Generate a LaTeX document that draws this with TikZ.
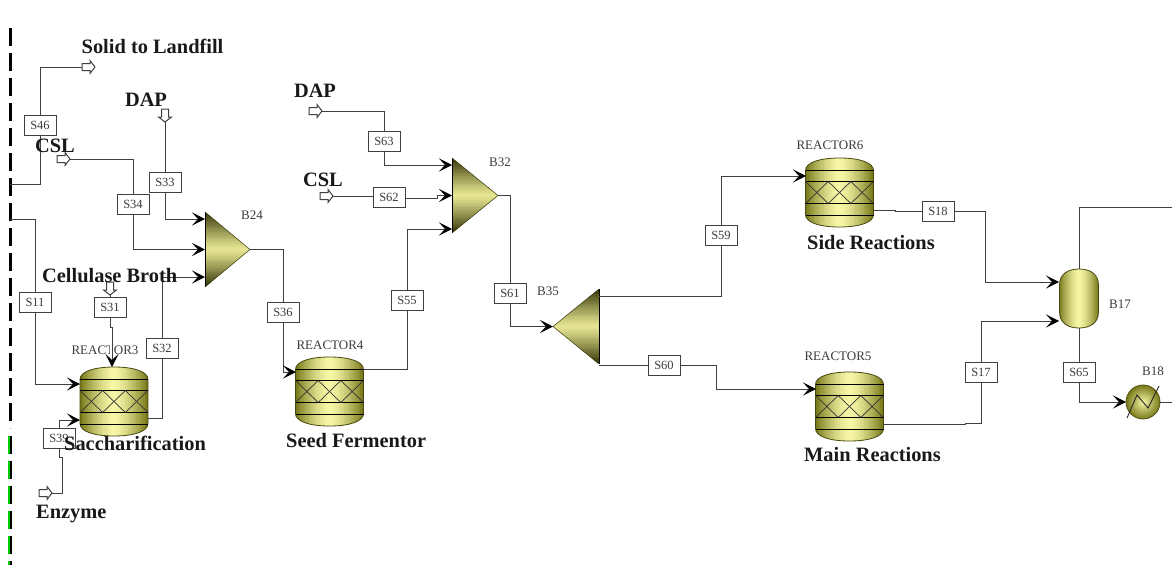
\documentclass[tikz,border=0pt]{standalone}
\usepackage{fontspec}
\setmainfont{Liberation Serif}
\usetikzlibrary{arrows.meta,calc}
\definecolor{oliveD}{HTML}{78781A}
\definecolor{oliveL}{HTML}{F6F6A6}
\definecolor{trioD}{HTML}{383808}
\definecolor{trioL}{HTML}{E8E894}
\definecolor{strm}{HTML}{404040}
\definecolor{txtg}{HTML}{3C3C3C}
\tikzset{
  x=1pt,y=-1pt,
  strmline/.style={draw=strm,line width=.95pt,line join=miter},
  intoport/.style={strmline,-{Stealth[length=13pt,width=13pt,inset=6pt,black]}},
  sbox/.style={draw=strm,fill=white,line width=1pt,minimum width=32pt,minimum height=20pt,inner sep=0pt,font=\fontsize{12.5}{13}\selectfont,text=txtg},
  blocklabel/.style={font=\fontsize{13}{14}\selectfont,text=txtg,inner sep=0pt},
  caption/.style={font=\fontsize{20.4}{21}\selectfont\bfseries,text=black!90,inner sep=0pt},
  feedarrow/.style={draw=strm,fill=white,line width=1pt,line join=miter},
  ghost/.style={inner sep=0pt,outer sep=0pt,draw=none,fill=none},
  vline/.style={draw=black,line width=1pt},
  xline/.style={draw=black!80,line width=.7pt},
  rim/.style={draw=oliveD!60!black,line width=.8pt}
}
\newcommand{\stripsH}[4]{%
  \foreach \u in {-20,...,20}{
    \pgfmathsetmacro{\pc}{100*(abs(\u)/20)^1.5}
    \fill[oliveD!\pc!oliveL] ({#1+\u*#2/20.5-#2/40},#3) rectangle ({#1+\u*#2/20.5+#2/30},#4);
  }%
}
\newcommand{\stripsV}[4]{%
  \foreach \u in {-20,...,20}{
    \pgfmathsetmacro{\pc}{100*(abs(\u)/20)^1.1}
    \fill[trioD!\pc!trioL] (#3,{#1+\u*#2/20.5-#2/40}) rectangle (#4,{#1+\u*#2/20.5+#2/30});
  }%
}
\newcommand{\reactorunit}[3]{%
  \def\rpath{(#2-34,#3-22) .. controls (#2-34,#3-30) and (#2-20,#3-34.5) .. (#2,#3-34.5)
     .. controls (#2+20,#3-34.5) and (#2+34,#3-30) .. (#2+34,#3-22)
     -- (#2+34,#3+22) .. controls (#2+34,#3+30) and (#2+20,#3+34.5) .. (#2,#3+34.5)
     .. controls (#2-20,#3+34.5) and (#2-34,#3+30) .. (#2-34,#3+22) -- cycle}%
  \begin{scope}
    \clip \rpath;
    \stripsH{#2}{34}{#3-36}{#3+36}
  \end{scope}
  \draw[rim] \rpath;
  \draw[vline] (#2-34,#3-22) -- (#2+34,#3-22);
  \draw[vline] (#2-34,#3-11) -- (#2+34,#3-11);
  \draw[vline] (#2-34,#3+11) -- (#2+34,#3+11);
  \draw[vline] (#2-34,#3+23) -- (#2+34,#3+23);
  \foreach \k in {0,1,2}{
    \draw[xline] ({#2-34+\k*22.67},#3-11) -- ({#2-34+(\k+1)*22.67},#3+11);
    \draw[xline] ({#2-34+\k*22.67},#3+11) -- ({#2-34+(\k+1)*22.67},#3-11);
  }
  \node[ghost,minimum width=68pt,minimum height=69pt] (#1) at (#2,#3) {};
}
\newcommand{\trio}[5]{%
  \begin{scope}
    \clip (#2,#4-#5) -- (#3,#4) -- (#2,#4+#5) -- cycle;
    \stripsV{#4}{#5}{#2}{#3}
  \end{scope}
  \draw[draw=black,line width=1pt] (#2,#4-#5) -- (#2,#4+#5);
  \draw[draw=trioD,line width=.5pt] (#2,#4-#5) -- (#3,#4) -- (#2,#4+#5);
  \node[ghost,minimum height=2*#5 pt,minimum width={abs(#3-#2)*1pt}] (#1) at ({(#2+#3)/2},#4) {};
}
\newcommand{\arrowright}[2]{%
  \path[feedarrow] (#1,#2-3.5) -- (#1+8,#2-3.5) -- (#1+8,#2-6.5) -- (#1+13,#2) -- (#1+8,#2+6.5) -- (#1+8,#2+3.5) -- (#1,#2+3.5) -- cycle;
}
\newcommand{\arrowdown}[2]{%
  \path[feedarrow] (#1-3.5,#2) -- (#1-3.5,#2+8) -- (#1-6.5,#2+8) -- (#1,#2+13) -- (#1+6.5,#2+8) -- (#1+3.5,#2+8) -- (#1+3.5,#2) -- cycle;
}
\begin{document}
\begin{tikzpicture}
\useasboundingbox (0,0) rectangle (1172,565);
\fill[white] (0,0) rectangle (1172,565);

\draw[black,line width=3pt,dash pattern=on 18pt off 7pt] (10,28) -- (10,428);
\draw[black,line width=3pt,dash pattern=on 18pt off 7pt] (10,436) -- (10,565);
\draw[green!80!black,line width=1.2pt,dash pattern=on 18pt off 7pt] (9,436) -- (9,565);

\coordinate (inA) at (10,184);
\coordinate (inB) at (10,219);
\coordinate (outR) at (1172,402);
\coordinate (outT) at (1172,207);

\node[blocklabel] (lr3) at (105,350) {REACTOR3};
\node[blocklabel] (lr4) at (330,345) {REACTOR4};
\node[blocklabel] (lr5) at (838,356) {REACTOR5};
\node[blocklabel] (lr6) at (830,145) {REACTOR6};
\node[blocklabel] (lb24) at (252,215) {B24};
\node[blocklabel] (lb32) at (500,162) {B32};
\node[blocklabel] (lb35) at (548,291) {B35};
\node[blocklabel] (lb17) at (1120,304) {B17};
\node[blocklabel] (lb18) at (1153,371) {B18};

\reactorunit{r3}{114}{401.5}
\reactorunit{r4}{329.5}{391.5}
\reactorunit{r5}{849.5}{406.5}
\reactorunit{r6}{839.5}{192.5}
\trio{b24}{205}{250}{249.5}{37.5}
\trio{b32}{452}{498}{195.5}{37.5}
\trio{b35}{599}{553}{326.5}{37.5}
\def\colpath{(1059.5,285) .. controls (1059.5,274) and (1068,269) .. (1079,269)
   .. controls (1090,269) and (1098.5,274) .. (1098.5,285) -- (1098.5,312)
   .. controls (1098.5,323) and (1090,328) .. (1079,328)
   .. controls (1068,328) and (1059.5,323) .. (1059.5,312) -- cycle}
\begin{scope}
  \clip \colpath;
  \stripsH{1079}{19.5}{268}{329}
\end{scope}
\draw[rim] \colpath;
\node[ghost,minimum width=39pt,minimum height=59pt] (b17) at (1079,298.5) {};
\shade[inner color=oliveL,outer color=oliveD,draw=oliveD!70!black,line width=.8pt] (1143,402) circle[radius=17];
\node[ghost,minimum width=34pt,minimum height=34pt] (b18) at (1143,402) {};
\draw[black!85,line width=.9pt] (1127,418) -- (1137,395) -- (1148,408) -- (1159,386);

\arrowright{82}{67}   \coordinate (pLand) at (82,67);
\arrowright{57}{159}  \coordinate (fCSLa) at (70,159);
\arrowdown{165}{109}  \coordinate (fDAPa) at (165,122);
\arrowdown{110}{282}  \coordinate (fCell) at (110,295);
\arrowright{39}{493}  \coordinate (fEnz) at (52,493);
\arrowright{309}{111} \coordinate (fDAPb) at (322,111);
\arrowright{320}{196} \coordinate (fCSLb) at (333,196);

\coordinate (r3a) at (80,384);   \coordinate (r3b) at (80,420);
\coordinate (r3t) at (112,367);  \coordinate (r3o) at (148,418);
\coordinate (r4a) at (296,372);  \coordinate (r4o) at (363,369);
\coordinate (r5a) at (816,389);  \coordinate (r5o) at (883,424);
\coordinate (r6a) at (806,176);  \coordinate (r6o) at (873,210);
\coordinate (b24a) at (205,219); \coordinate (b24c) at (205,277);
\coordinate (b32a) at (452,165); \coordinate (b32c) at (452,229);
\coordinate (b35a) at (599,296); \coordinate (b35b) at (599,365);
\coordinate (b17a) at (1059,282); \coordinate (b17b) at (1059,321);

\node[sbox] (s46) at (40,125) {S46};
\node[sbox] (s34) at (133,204) {S34};
\node[sbox] (s33) at (165,182) {S33};
\node[sbox] (s11) at (35,302) {S11};
\node[sbox] (s31) at (110,307) {S31};
\node[sbox] (s32) at (162,348) {S32};
\node[sbox] (s39) at (59,438) {S39};
\node[sbox] (s36) at (283,312) {S36};
\node[sbox] (s55) at (407,300) {S55};
\node[sbox] (s63) at (384,141) {S63};
\node[sbox] (s62) at (389,197) {S62};
\node[sbox] (s61) at (510,293) {S61};
\node[sbox] (s59) at (721,235) {S59};
\node[sbox] (s60) at (664,365) {S60};
\node[sbox] (s18) at (938,211) {S18};
\node[sbox] (s17) at (981,372) {S17};
\node[sbox] (s65) at (1079,372) {S65};

\draw[strmline] (inA) -| (s46.south);
\draw[strmline] (s46.north) |- (pLand);
\draw[strmline] (fCSLa) -| (s34.north);
\draw[intoport] (s34.south) |- (b24.west);
\draw[strmline] (fDAPa) -- (s33.north);
\draw[intoport] (s33.south) |- (b24a);
\draw[strmline] (inB) -| (s11.north);
\draw[intoport] (s11.south) |- (r3a);
\draw[strmline] (fCell) -- (s31.north);
\draw[white,line width=3.5pt] (112,342) -- (112,357);
\draw[intoport] (s31.south) -- (110,327) -- (112,327) -- (r3t);
\draw[strmline] (r3o) -| (s32.south);
\draw[intoport] (s32.north) |- (b24c);
\draw[strmline] (fEnz) -- (62,493) -- (62,457) -- (59,457) -- (s39.south);
\draw[intoport] (s39.north) |- (r3b);
\draw[strmline] (b24.east) -| (s36.north);
\draw[intoport] (s36.south) |- (r4a);
\draw[strmline] (r4o) -| (s55.south);
\draw[intoport] (s55.north) |- (b32c);
\draw[strmline] (fDAPb) -| (s63.north);
\draw[intoport] (s63.south) |- (b32a);
\draw[strmline] (fCSLb) -- (s62.west |- fCSLb);
\draw[intoport] ($(s62.east)+(0,1)$) -- (437,198) -- (437,195.5) -- (b32.west);
\draw[strmline] (b32.east) -| (s61.north);
\draw[intoport] (s61.south) |- (b35.west);
\draw[strmline] (b35a) -| (s59.south);
\draw[intoport] (s59.north) |- (r6a);
\draw[strmline] (b35b) -- (s60.west);
\draw[intoport] (s60.east) -- (716,365) -- (716,389) -- (r5a);
\draw[strmline] (r6o) -- (895,210) -- (895,211) -- (s18.west);
\draw[intoport] (s18.east) -| (985,282) -- (b17a);
\draw[strmline] (r5o) -- (965,424) -- (965,423) -| (s17.south);
\draw[intoport] (s17.north) |- (b17b);
\draw[strmline] (b17.south) -- (s65.north);
\draw[intoport] (s65.south) |- (b18.west);
\draw[strmline] (b18.east) -- (outR);
\draw[strmline] (b17.north) |- (outT);

\node[caption,anchor=west] (cLand) at (81.5,46.5) {Solid to Landfill};
\node[caption] (cDAPa) at (146,100) {DAP};
\node[caption] (cCSLa) at (55,146) {CSL};
\node[caption] (cDAPb) at (315,91) {DAP};
\node[caption] (cCSLb) at (323,180) {CSL};
\node[caption,anchor=west] (cCell) at (42,275.5) {Cellulase Broth};
\node[caption,anchor=west] (cSacc) at (64,443.5) {Saccharification};
\node[caption,anchor=west] (cEnz) at (36,514.5) {Enzyme};
\node[caption,anchor=west] (cSeed) at (286,440.5) {Seed Fermentor};
\node[caption,anchor=west] (cSide) at (807,242.5) {Side Reactions};
\node[caption,anchor=west] (cMain) at (804,454.5) {Main Reactions};
\end{tikzpicture}
\end{document}
